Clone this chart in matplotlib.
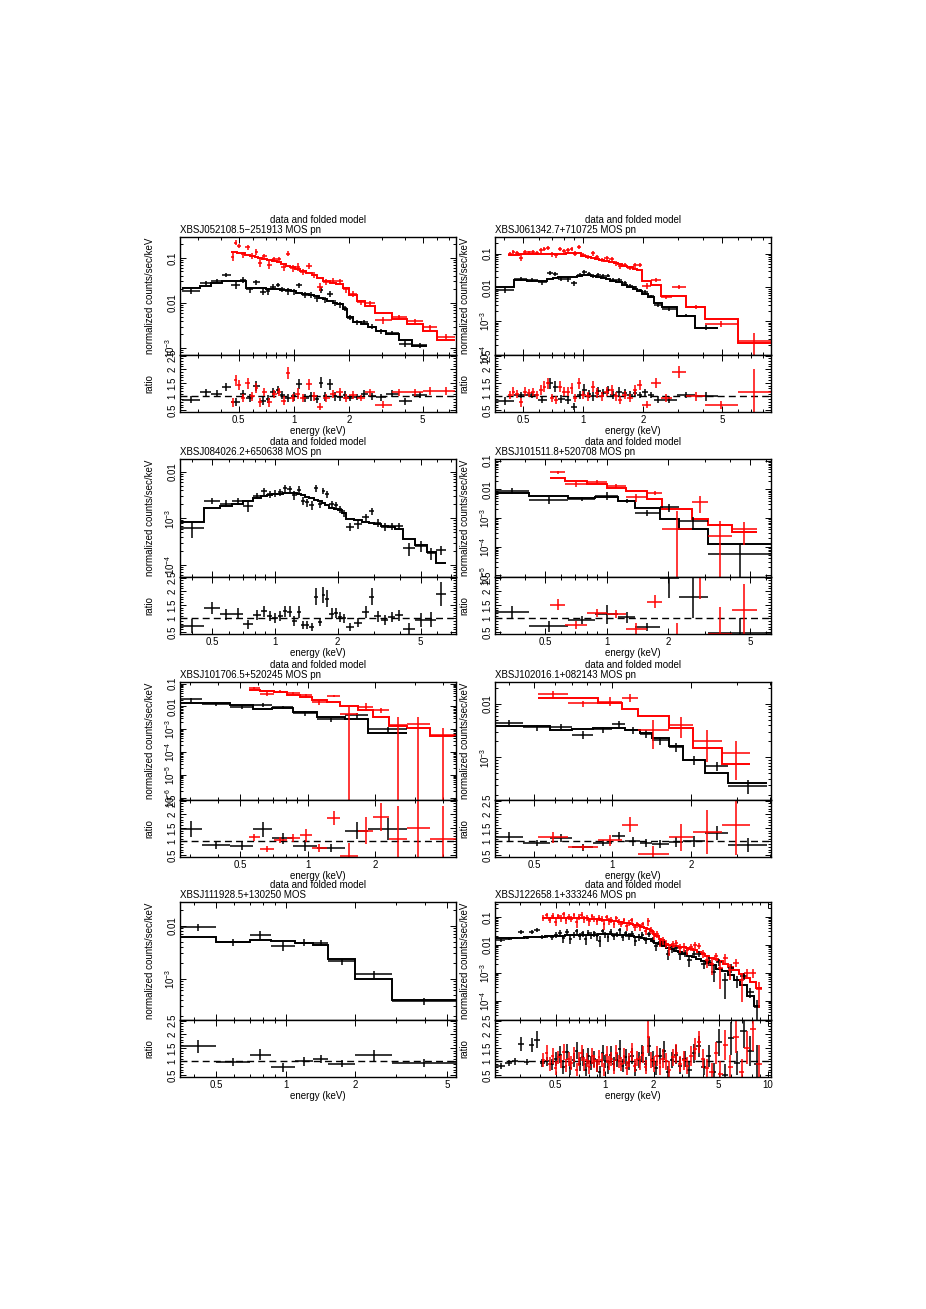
import numpy as np
import matplotlib
matplotlib.use("Agg")
import matplotlib.pyplot as plt
from matplotlib.ticker import FixedLocator, LogLocator, MultipleLocator, NullFormatter, FuncFormatter

# energy bin edges (keV), folded model per bin, data/model ratio and its error
# black = MOS, red = pn

# XBSJ052108.5-251913
P1_MOS_EDGES = [0.245, 0.31, 0.355, 0.405, 0.455, 0.51, 0.55, 0.6, 0.65, 0.7,
                0.745, 0.8, 0.84, 0.89, 0.96, 1.03, 1.11, 1.2, 1.29, 1.37,
                1.44, 1.52, 1.62, 1.72, 1.84, 1.95, 2.1, 2.3, 2.52, 2.8,
                3.15, 3.7, 4.4, 5.3]
P1_MOS_MODEL = [0.021, 0.024, 0.028, 0.031, 0.031, 0.030, 0.021, 0.021, 0.021, 0.020,
                0.020, 0.020, 0.019, 0.019, 0.018, 0.017, 0.016, 0.015, 0.014, 0.013,
                0.012, 0.011, 0.010, 0.0095, 0.0072, 0.0050, 0.0038, 0.0034, 0.0030, 0.0024,
                0.0020, 0.0015, 0.0011]
P1_MOS_RATIO = [0.88, 1.15, 1.1, 1.35, 0.8, 1.08, 0.95, 1.38, 0.85, 0.9,
                1.15, 1.25, 1.05, 0.95, 1.0, 1.45, 0.95, 1.0, 0.9, 1.5,
                1.0, 1.45, 1.0, 0.98, 1.05, 0.95, 0.98, 1.1, 1.0, 0.97,
                1.1, 0.82, 1.05]
P1_MOS_RERR = [0.12, 0.12, 0.12, 0.15, 0.15, 0.15, 0.15, 0.18, 0.15, 0.15,
               0.15, 0.15, 0.15, 0.15, 0.15, 0.18, 0.15, 0.15, 0.15, 0.2,
               0.15, 0.2, 0.15, 0.15, 0.15, 0.12, 0.12, 0.12, 0.12, 0.12,
               0.12, 0.12, 0.12]
P1_PN_EDGES = [0.455, 0.474, 0.492, 0.512, 0.543, 0.578, 0.612, 0.638, 0.668, 0.712,
               0.758, 0.806, 0.855, 0.905, 0.957, 1.015, 1.08, 1.16, 1.25, 1.33,
               1.43, 1.56, 1.70, 1.84, 2.0, 2.2, 2.44, 2.75, 3.4, 4.1,
               5.0, 6.0, 7.5]
P1_PN_MODEL = [0.135, 0.135, 0.13, 0.125, 0.115, 0.11, 0.105, 0.10, 0.095, 0.09,
               0.085, 0.08, 0.073, 0.067, 0.062, 0.058, 0.052, 0.046, 0.042, 0.036,
               0.031, 0.028, 0.026, 0.021, 0.015, 0.011, 0.0085, 0.006, 0.0043, 0.0034,
               0.0024, 0.0015]
P1_PN_RATIO = [0.78, 1.6, 1.42, 0.95, 1.48, 1.0, 1.3, 0.78, 1.15, 0.78,
               1.1, 1.15, 0.85, 1.85, 0.95, 1.1, 0.95, 1.45, 1.0, 0.63,
               0.95, 1.1, 1.15, 0.95, 1.05, 0.95, 1.15, 0.7, 1.15, 1.15,
               1.2, 1.2]
P1_PN_RERR = [0.15, 0.2, 0.18, 0.15, 0.2, 0.15, 0.18, 0.15, 0.15, 0.15,
              0.15, 0.15, 0.15, 0.22, 0.15, 0.2, 0.15, 0.2, 0.15, 0.12,
              0.15, 0.15, 0.15, 0.15, 0.15, 0.12, 0.12, 0.12, 0.12, 0.12,
              0.15, 0.15]

# XBSJ061342.7+710725
P2_MOS_EDGES = [0.36, 0.45, 0.52, 0.59, 0.66, 0.705, 0.745, 0.81, 0.87, 0.93,
                0.99, 1.04, 1.09, 1.155, 1.225, 1.295, 1.37, 1.455, 1.56, 1.67,
                1.77, 1.87, 1.98, 2.12, 2.28, 2.5, 2.95, 3.63, 4.75]
P2_MOS_MODEL = [0.010, 0.017, 0.016, 0.016, 0.018, 0.019, 0.020, 0.020, 0.021, 0.022,
                0.023, 0.023, 0.022, 0.020, 0.019, 0.018, 0.016, 0.014, 0.012, 0.0105,
                0.009, 0.0078, 0.0065, 0.0052, 0.0035, 0.0026, 0.0014, 0.00065]
P2_MOS_RATIO = [0.82, 1.05, 1.05, 0.88, 1.48, 1.35, 0.9, 0.88, 0.63, 1.05,
                1.25, 1.1, 1.0, 1.2, 1.12, 1.25, 1.05, 1.18, 1.12, 1.05,
                1.12, 1.05, 1.15, 1.05, 0.88, 0.88, 1.05, 1.0]
P2_MOS_RERR = [0.15, 0.12, 0.12, 0.12, 0.2, 0.2, 0.15, 0.15, 0.12, 0.15,
               0.2, 0.15, 0.15, 0.15, 0.15, 0.15, 0.15, 0.15, 0.15, 0.15,
               0.12, 0.12, 0.12, 0.12, 0.12, 0.12, 0.12, 0.15]
P2_PN_EDGES = [0.42, 0.437, 0.454, 0.476, 0.50, 0.522, 0.547, 0.572, 0.598, 0.625,
               0.652, 0.68, 0.714, 0.75, 0.779, 0.817, 0.858, 0.891, 0.926, 0.97,
               1.03, 1.09, 1.145, 1.205, 1.275, 1.35, 1.43, 1.5, 1.575, 1.67,
               1.77, 1.87, 1.98, 2.2, 2.45, 2.8, 3.3, 4.1, 6.0, 8.8]
P2_PN_MODEL = [0.092, 0.093, 0.094, 0.095, 0.096, 0.097, 0.098, 0.099, 0.10, 0.10,
               0.10, 0.10, 0.10, 0.10, 0.10, 0.105, 0.105, 0.105, 0.105, 0.085,
               0.08, 0.075, 0.07, 0.066, 0.062, 0.057, 0.052, 0.048, 0.044, 0.04,
               0.036, 0.032, 0.016, 0.0115, 0.0055, 0.0055, 0.0027, 0.0012, 0.00022]
P2_PN_RATIO = [1.06, 1.18, 1.1, 0.78, 1.18, 1.12, 1.15, 1.06, 1.24, 1.36,
               1.48, 0.95, 0.88, 1.36, 1.18, 1.18, 1.3, 0.95, 1.48, 1.06,
               1.0, 1.36, 1.12, 1.0, 1.18, 1.24, 1.0, 0.88, 1.06, 0.95,
               1.24, 1.42, 0.7, 1.48, 0.95, 1.9, 1.0, 0.7, 1.15]
P2_PN_RERR = [0.15, 0.15, 0.15, 0.15, 0.15, 0.15, 0.15, 0.15, 0.18, 0.2,
              0.2, 0.15, 0.15, 0.2, 0.18, 0.18, 0.2, 0.15, 0.2, 0.15,
              0.15, 0.2, 0.18, 0.15, 0.18, 0.18, 0.15, 0.15, 0.15, 0.15,
              0.18, 0.2, 0.12, 0.18, 0.15, 0.22, 0.15, 0.15, 0.85]

# XBSJ084026.2+650638
P3_MOS_EDGES = [0.35, 0.455, 0.545, 0.625, 0.705, 0.785, 0.855, 0.915, 0.973, 1.032,
                1.095, 1.148, 1.205, 1.27, 1.33, 1.39, 1.46, 1.54, 1.615, 1.68,
                1.74, 1.81, 1.93, 2.015, 2.09, 2.2, 2.4, 2.63, 2.83, 3.0,
                3.22, 3.5, 3.77, 4.1, 4.7, 5.35, 5.95, 6.65]
P3_MOS_MODEL = [0.00085, 0.0017, 0.0018, 0.0020, 0.0023, 0.0027, 0.003, 0.0031, 0.0033, 0.0034,
                0.0035, 0.0035, 0.0035, 0.0033, 0.0031, 0.0029, 0.0027, 0.0025, 0.0023, 0.0021,
                0.0019, 0.0017, 0.0016, 0.0015, 0.0013, 0.00095, 0.0009, 0.00085, 0.0008, 0.00075,
                0.0007, 0.00065, 0.0006, 0.00036, 0.00027, 0.00019, 0.00011]
P3_MOS_RATIO = [0.72, 1.4, 1.15, 1.18, 0.78, 1.12, 1.27, 1.08, 1.03, 1.08,
                1.27, 1.24, 0.9, 1.24, 0.76, 0.76, 0.7, 1.8, 0.88, 1.85,
                1.73, 1.18, 1.2, 1.05, 1.0, 0.7, 0.85, 1.24, 1.8, 1.08,
                0.93, 1.05, 1.12, 0.63, 0.94, 0.96, 1.9]
P3_MOS_RERR = [0.27, 0.22, 0.2, 0.2, 0.18, 0.18, 0.2, 0.18, 0.18, 0.18,
               0.2, 0.2, 0.18, 0.22, 0.15, 0.15, 0.15, 0.3, 0.15, 0.3,
               0.3, 0.2, 0.2, 0.18, 0.18, 0.15, 0.18, 0.22, 0.3, 0.2,
               0.18, 0.18, 0.2, 0.2, 0.25, 0.28, 0.45]

# XBSJ101511.8+520708
P4_MOS_EDGES = [0.285, 0.418, 0.65, 0.877, 1.14, 1.37, 1.82, 2.24, 3.13, 6.33]
P4_MOS_MODEL = [0.0074, 0.0061, 0.0049, 0.0053, 0.0038, 0.0022, 0.00095, 0.00043, 0.00012]
P4_MOS_RATIO = [1.22, 0.72, 0.95, 1.15, 1.05, 0.7, 2.5, 1.8, 0.45]
P4_MOS_RERR = [0.25, 0.2, 0.15, 0.35, 0.2, 0.15, 0.75, 0.8, 0.55]
P4_PN_EDGES = [0.529, 0.626, 0.80, 1.0, 1.24, 1.57, 1.87, 2.6, 3.13, 4.07, 5.39]
P4_PN_MODEL = [0.026, 0.020, 0.0155, 0.0115, 0.0085, 0.0046, 0.002, 0.0009, 0.00056, 0.00032]
P4_PN_RATIO = [1.5, 0.75, 1.2, 1.15, 0.63, 1.62, 0.2, 4.0, 0.43, 1.3]
P4_PN_RERR = [0.2, 0.15, 0.15, 0.15, 0.2, 0.25, 0.65, 2.3, 1.0, 0.95]

# XBSJ101706.5+520245
P5_MOS_EDGES = [0.27, 0.337, 0.452, 0.573, 0.692, 0.863, 1.097, 1.47, 1.86, 2.76]
P5_MOS_MODEL = [0.014, 0.0141, 0.0119, 0.008, 0.0082, 0.006, 0.0036, 0.0029, 0.00069]
P5_MOS_RATIO = [1.45, 0.88, 0.82, 1.45, 1.12, 0.85, 0.75, 1.4, 1.45]
P5_MOS_RERR = [0.3, 0.15, 0.15, 0.28, 0.2, 0.2, 0.15, 0.3, 0.4]
P5_PN_EDGES = [0.545, 0.614, 0.704, 0.807, 0.925, 1.04, 1.22, 1.39, 1.68, 1.96,
               2.29, 2.76, 3.5, 4.57]
P5_PN_MODEL = [0.055, 0.05, 0.043, 0.033, 0.025, 0.02, 0.0155, 0.0104, 0.0071, 0.0036,
               0.00145, 0.0011, 0.0005]
P5_PN_RATIO = [1.15, 0.72, 1.05, 1.12, 1.22, 0.75, 1.85, 0.45, 1.4, 1.9, 1.1, 1.5, 1.1]
P5_PN_RERR = [0.12, 0.12, 0.12, 0.15, 0.25, 0.15, 0.25, 0.5, 0.5, 0.5, 1.2, 1.5, 1.2]

# XBSJ102016.1+082143
P6_MOS_EDGES = [0.355, 0.456, 0.577, 0.698, 0.846, 0.994, 1.12, 1.28, 1.42, 1.64,
                1.87, 2.27, 2.78, 3.90]
P6_MOS_MODEL = [0.0038, 0.0038, 0.0033, 0.0034, 0.0035, 0.0035, 0.0032, 0.0029, 0.0023, 0.0016,
                0.0009, 0.00052, 0.00033]
P6_MOS_RATIO = [1.15, 0.95, 1.12, 0.78, 0.95, 1.2, 1.0, 0.95, 0.9, 0.98, 1.0, 1.3, 0.88]
P6_MOS_RERR = [0.18, 0.12, 0.15, 0.12, 0.12, 0.15, 0.15, 0.15, 0.15, 0.2, 0.2, 0.25, 0.25]
P6_PN_EDGES = [0.52, 0.678, 0.884, 1.086, 1.258, 1.64, 2.04, 2.62, 3.37]
P6_PN_MODEL = [0.013, 0.013, 0.0105, 0.008, 0.0058, 0.0035, 0.0015, 0.00075]
P6_PN_RATIO = [1.15, 0.78, 1.05, 1.62, 0.55, 1.15, 1.35, 1.6]
P6_PN_RERR = [0.2, 0.1, 0.2, 0.28, 0.3, 0.5, 0.8, 1.1]

# XBSJ111928.5+130250 (MOS only)
P7_MOS_EDGES = [0.349, 0.5, 0.702, 0.862, 1.10, 1.32, 1.53, 2.0, 2.90, 5.47]
P7_MOS_MODEL = [0.006, 0.005, 0.0054, 0.0052, 0.0048, 0.0043, 0.0023, 0.00099, 0.00039]
P7_MOS_RATIO = [1.55, 0.98, 1.25, 0.78, 1.0, 1.1, 0.92, 1.22, 0.95]
P7_MOS_RERR = [0.25, 0.15, 0.2, 0.15, 0.15, 0.15, 0.12, 0.2, 0.15]

# XBSJ122658.1+333246
P8_MOS_EDGES = [0.215, 0.245, 0.27, 0.295, 0.32, 0.345, 0.37, 0.4, 0.43, 0.46,
                0.49, 0.52, 0.545, 0.57, 0.6, 0.63, 0.66, 0.69, 0.72, 0.75,
                0.78, 0.81, 0.845, 0.88, 0.915, 0.95, 0.99, 1.03, 1.07, 1.11,
                1.16, 1.21, 1.26, 1.32, 1.38, 1.44, 1.51, 1.58, 1.66, 1.74,
                1.83, 1.92, 2.02, 2.13, 2.25, 2.38, 2.52, 2.67, 2.83, 3.0,
                3.2, 3.42, 3.66, 3.92, 4.2, 4.5, 4.85, 5.25, 5.7, 6.2,
                6.8, 7.5, 8.2, 9.0]
P8_MOS_MODEL = [0.017, 0.0172, 0.0175, 0.018, 0.0183, 0.0186, 0.019, 0.0195, 0.02, 0.0205,
                0.021, 0.021, 0.0212, 0.0215, 0.0217, 0.022, 0.022, 0.022, 0.0222, 0.0225,
                0.0227, 0.023, 0.023, 0.0232, 0.0233, 0.0234, 0.0235, 0.0235, 0.0233, 0.023,
                0.0228, 0.0225, 0.0222, 0.022, 0.0215, 0.0205, 0.0195, 0.0185, 0.0175, 0.0165,
                0.0155, 0.014, 0.012, 0.0102, 0.0088, 0.0078, 0.0068, 0.006, 0.0053, 0.0047,
                0.0041, 0.0036, 0.0031, 0.0026, 0.0022, 0.0018, 0.0014, 0.0011, 0.0008, 0.00055,
                0.00035, 0.00015, 0.000065]
P8_MOS_RATIO = [0.84, 0.95, 1.0, 1.65, 0.98, 1.6, 1.8, 0.95, 1.0, 0.9,
                1.1, 1.25, 0.8, 1.35, 0.75, 1.05, 1.4, 0.9, 1.15, 0.7,
                1.2, 0.95, 1.1, 0.85, 0.6, 1.3, 1.0, 0.8, 1.25, 0.9,
                1.05, 1.45, 0.85, 1.15, 0.95, 1.2, 0.7, 1.05, 1.3, 0.9,
                1.55, 1.1, 0.75, 1.2, 1.4, 0.6, 1.05, 1.25, 0.85, 1.1,
                0.7, 1.3, 1.55, 0.8, 1.2, 0.6, 1.7, 0.5, 1.85, 0.95,
                2.1, 1.4, 0.9]
P8_MOS_RERR = [0.12, 0.12, 0.12, 0.25, 0.12, 0.25, 0.3, 0.15, 0.15, 0.2,
               0.25, 0.3, 0.25, 0.3, 0.25, 0.25, 0.3, 0.25, 0.3, 0.25,
               0.3, 0.25, 0.3, 0.25, 0.25, 0.3, 0.25, 0.25, 0.3, 0.25,
               0.25, 0.35, 0.25, 0.3, 0.25, 0.3, 0.25, 0.3, 0.3, 0.25,
               0.35, 0.3, 0.25, 0.3, 0.35, 0.25, 0.3, 0.35, 0.3, 0.3,
               0.3, 0.35, 0.4, 0.3, 0.4, 0.35, 0.5, 0.4, 0.6, 0.45,
               0.6, 0.55, 0.7]
P8_PN_EDGES = [0.41, 0.43, 0.45, 0.47, 0.49, 0.51, 0.53, 0.55, 0.57, 0.59, 0.61,
               0.635, 0.66, 0.685, 0.71, 0.735, 0.76, 0.79, 0.82, 0.85, 0.88,
               0.91, 0.94, 0.975, 1.01, 1.045, 1.08, 1.12, 1.16, 1.2, 1.245,
               1.29, 1.34, 1.39, 1.44, 1.5, 1.56, 1.62, 1.68, 1.75, 1.82,
               1.89, 1.97, 2.05, 2.14, 2.23, 2.33, 2.44, 2.56, 2.69, 2.83,
               2.98, 3.14, 3.31, 3.5, 3.7, 3.92, 4.15, 4.4, 4.67, 4.96,
               5.3, 5.7, 6.15, 6.65, 7.2, 7.8, 8.5, 9.2]
P8_PN_MODEL = [0.088, 0.088, 0.089, 0.089, 0.09, 0.09, 0.09, 0.09, 0.09, 0.09,
               0.09, 0.09, 0.09, 0.09, 0.09, 0.09, 0.088, 0.087, 0.086, 0.085,
               0.084, 0.082, 0.08, 0.078, 0.076, 0.074, 0.072, 0.07, 0.068, 0.066,
               0.064, 0.062, 0.06, 0.058, 0.055, 0.052, 0.049, 0.046, 0.043, 0.04,
               0.037, 0.032, 0.025, 0.02, 0.016, 0.013, 0.011, 0.0098, 0.0093, 0.009,
               0.0085, 0.008, 0.0075, 0.007, 0.0065, 0.0055, 0.0045, 0.0038, 0.0033, 0.003,
               0.0026, 0.0021, 0.0016, 0.0012, 0.0009, 0.00065, 0.00045, 0.00028]
P8_PN_RATIO = [1.05, 1.3, 0.9, 1.2, 0.75, 1.15, 1.0, 1.35, 0.85, 1.1,
               0.95, 1.25, 0.7, 1.1, 1.3, 0.9, 1.05, 0.8, 1.2, 1.0,
               0.85, 1.15, 1.05, 0.7, 1.25, 0.95, 1.1, 0.8, 1.3, 1.0,
               0.9, 1.2, 0.75, 1.05, 1.35, 0.85, 1.1, 0.95, 1.25, 0.8,
               1.9, 1.05, 0.9, 1.2, 0.8, 1.1, 1.0, 0.7, 1.15, 1.3,
               0.9, 1.05, 0.85, 1.2, 1.45, 1.7, 1.1, 0.75, 0.6, 1.3,
               0.55, 1.6, 0.8, 1.9, 0.6, 1.5, 2.2, 0.9]
P8_PN_RERR = [0.25, 0.3, 0.25, 0.28, 0.25, 0.25, 0.25, 0.3, 0.25, 0.25,
              0.25, 0.28, 0.25, 0.25, 0.3, 0.25, 0.25, 0.25, 0.28, 0.25,
              0.25, 0.28, 0.25, 0.25, 0.3, 0.25, 0.25, 0.25, 0.3, 0.25,
              0.25, 0.3, 0.25, 0.25, 0.32, 0.25, 0.28, 0.25, 0.3, 0.25,
              0.6, 0.3, 0.3, 0.35, 0.3, 0.35, 0.3, 0.3, 0.3, 0.35,
              0.3, 0.35, 0.3, 0.35, 0.4, 0.4, 0.35, 0.35, 0.35, 0.4,
              0.45, 0.55, 0.45, 0.6, 0.5, 0.6, 0.8, 0.7]

SOURCES = ["XBSJ052108.5\u2212251913 MOS pn", "XBSJ061342.7+710725 MOS pn",
           "XBSJ084026.2+650638 MOS pn", "XBSJ101511.8+520708 MOS pn",
           "XBSJ101706.5+520245 MOS pn", "XBSJ102016.1+082143 MOS pn",
           "XBSJ111928.5+130250 MOS", "XBSJ122658.1+333246 MOS pn"]
XLIMS = [(0.24, 7.6), (0.36, 8.8), (0.35, 7.4), (0.285, 6.33),
         (0.27, 4.57), (0.355, 4.05), (0.349, 5.47), (0.212, 10.5)]
YLIMS = [(7e-4, 0.29), (1e-4, 0.31), (5.5e-5, 0.0187), (8.8e-6, 0.115),
         (7.9e-7, 0.118), (1.6e-4, 0.0255), (1.65e-4, 0.028), (2e-5, 0.34)]
X_TICKS = [0.5, 1, 2, 5, 10]
RATIO_TICKS = [0.5, 1, 1.5, 2, 2.5]

SERIES = [
    [(P1_MOS_EDGES, P1_MOS_MODEL, P1_MOS_RATIO, P1_MOS_RERR, "black"),
     (P1_PN_EDGES, P1_PN_MODEL, P1_PN_RATIO, P1_PN_RERR, "red")],
    [(P2_MOS_EDGES, P2_MOS_MODEL, P2_MOS_RATIO, P2_MOS_RERR, "black"),
     (P2_PN_EDGES, P2_PN_MODEL, P2_PN_RATIO, P2_PN_RERR, "red")],
    [(P3_MOS_EDGES, P3_MOS_MODEL, P3_MOS_RATIO, P3_MOS_RERR, "black")],
    [(P4_MOS_EDGES, P4_MOS_MODEL, P4_MOS_RATIO, P4_MOS_RERR, "black"),
     (P4_PN_EDGES, P4_PN_MODEL, P4_PN_RATIO, P4_PN_RERR, "red")],
    [(P5_MOS_EDGES, P5_MOS_MODEL, P5_MOS_RATIO, P5_MOS_RERR, "black"),
     (P5_PN_EDGES, P5_PN_MODEL, P5_PN_RATIO, P5_PN_RERR, "red")],
    [(P6_MOS_EDGES, P6_MOS_MODEL, P6_MOS_RATIO, P6_MOS_RERR, "black"),
     (P6_PN_EDGES, P6_PN_MODEL, P6_PN_RATIO, P6_PN_RERR, "red")],
    [(P7_MOS_EDGES, P7_MOS_MODEL, P7_MOS_RATIO, P7_MOS_RERR, "black")],
    [(P8_MOS_EDGES, P8_MOS_MODEL, P8_MOS_RATIO, P8_MOS_RERR, "black"),
     (P8_PN_EDGES, P8_PN_MODEL, P8_PN_RATIO, P8_PN_RERR, "red")],
]

plt.rcParams["font.family"] = ["Liberation Sans", "DejaVu Sans"]
plt.rcParams["font.size"] = 7
plt.rcParams["mathtext.default"] = "regular"

W, H = 926, 1309
COL_X = [180, 495]
ROW_TOP = [237, 459, 682, 902]
AX_W, MAIN_H, RAT_H = 276, 118, 57


def ylabel_fmt(v, pos):
    e = int(round(np.log10(v)))
    if e >= -2:
        return "%g" % v
    return r"$10^{%d}$" % e


def style_axis(ax):
    ax.tick_params(which="both", direction="in", top=True, right=True, width=0.7, pad=2)
    ax.tick_params(which="major", length=4)
    ax.tick_params(which="minor", length=2)
    for s in ax.spines.values():
        s.set_linewidth(1.0)


def draw_series(axm, axr, edges, model, ratio, rerr, color):
    edges = np.asarray(edges)
    model = np.asarray(model)
    ratio = np.asarray(ratio)
    rerr = np.asarray(rerr)
    assert len(edges) == len(model) + 1 == len(ratio) + 1 == len(rerr) + 1
    cen = np.sqrt(edges[:-1] * edges[1:])
    xerr = [cen - edges[:-1], edges[1:] - cen]
    data = model * ratio
    derr = model * rerr
    axm.stairs(model, edges, color=color, lw=1.4, baseline=None)
    axm.errorbar(cen, data, xerr=xerr, yerr=derr, fmt="none", ecolor=color, elinewidth=1.1)
    axr.errorbar(cen, ratio, xerr=xerr, yerr=rerr, fmt="none", ecolor=color, elinewidth=1.1)


fig = plt.figure(figsize=(W / 100, H / 100), dpi=100)

for i, series in enumerate(SERIES):
    row, col = divmod(i, 2)
    x0 = COL_X[col] / W
    top = ROW_TOP[row]
    axm = fig.add_axes([x0, 1 - (top + MAIN_H) / H, AX_W / W, MAIN_H / H])
    axr = fig.add_axes([x0, 1 - (top + MAIN_H + RAT_H) / H, AX_W / W, RAT_H / H], sharex=axm)

    for edges, model, ratio, rerr, color in series:
        draw_series(axm, axr, edges, model, ratio, rerr, color)
    axr.axhline(1.0, color="black", lw=1.0, ls=(0, (5, 3)), zorder=0)

    xlo, xhi = XLIMS[i]
    ylo, yhi = YLIMS[i]
    for ax in (axm, axr):
        ax.set_xscale("log")
        style_axis(ax)
    axm.set_yscale("log")
    axm.set_xlim(xlo, xhi)
    axm.set_ylim(ylo, yhi)
    axr.set_ylim(0.43, 2.52)

    xt = [t for t in X_TICKS if xlo <= t <= xhi]
    axr.xaxis.set_major_locator(FixedLocator(xt))
    axr.xaxis.set_major_formatter(FuncFormatter(lambda v, p: "%g" % v))
    axr.xaxis.set_minor_locator(LogLocator(base=10, subs=np.arange(1, 10), numticks=20))
    axr.xaxis.set_minor_formatter(NullFormatter())
    axm.tick_params(labelbottom=False)

    dec = 10.0 ** np.arange(np.ceil(np.log10(ylo)), np.floor(np.log10(yhi)) + 1)
    axm.yaxis.set_major_locator(FixedLocator(dec))
    axm.yaxis.set_major_formatter(FuncFormatter(ylabel_fmt))
    axm.yaxis.set_minor_locator(LogLocator(base=10, subs=np.arange(2, 10), numticks=20))
    axm.yaxis.set_minor_formatter(NullFormatter())

    axr.yaxis.set_major_locator(FixedLocator(RATIO_TICKS))
    axr.yaxis.set_major_formatter(FuncFormatter(lambda v, p: "%g" % v))
    axr.yaxis.set_minor_locator(MultipleLocator(0.1))

    for ax in (axm, axr):
        plt.setp(ax.get_yticklabels(), rotation=90, va="center")

    axm.set_ylabel("normalized counts/sec/keV")
    axr.set_ylabel("ratio")
    axm.yaxis.set_label_coords(-0.092, 0.5)
    axr.yaxis.set_label_coords(-0.092, 0.5)
    axr.set_xlabel("energy (keV)", labelpad=1)

    axm.annotate("data and folded model", xy=(0.5, 1), xycoords="axes fraction",
                 xytext=(0, 12), textcoords="offset points", ha="center", va="center")
    axm.annotate(SOURCES[i], xy=(0, 1), xycoords="axes fraction",
                 xytext=(0, 5), textcoords="offset points", ha="left", va="center")

fig.savefig("out.png", dpi=100)
